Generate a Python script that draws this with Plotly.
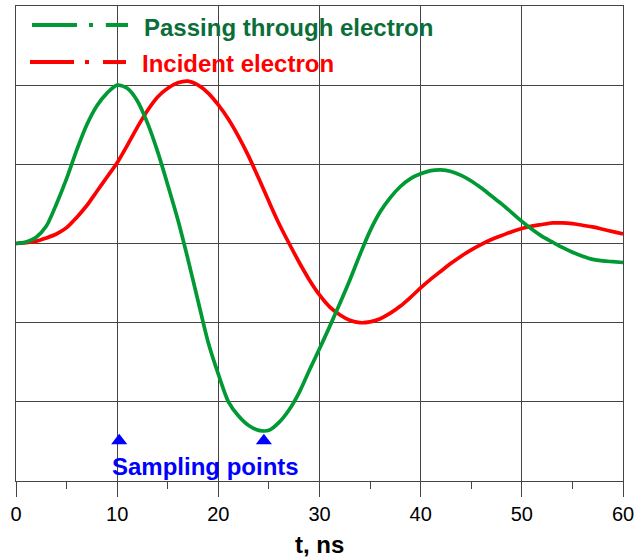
import plotly.graph_objects as go

# Passing through electron (green)
t_pass = list(range(0, 61))
v_pass = [0.0, 0.02, 0.08, 0.22, 0.5, 0.82, 1.18, 1.5, 1.74, 1.9, 2.0, 1.96, 1.8, 1.52, 1.16, 0.74, 0.3,
          -0.2, -0.73, -1.25, -1.65, -2.0, -2.18, -2.3, -2.36, -2.36, -2.26, -2.1, -1.88, -1.6, -1.33,
          -1.05, -0.76, -0.46, -0.14, 0.16, 0.4, 0.58, 0.72, 0.82, 0.88, 0.92, 0.93, 0.91, 0.86, 0.79,
          0.7, 0.6, 0.5, 0.39, 0.28, 0.18, 0.09, 0.02, -0.05, -0.11, -0.16, -0.2, -0.22, -0.23, -0.24]

# Incident electron (red)
t_inc = list(range(0, 61))
v_inc = [0.0, 0.01, 0.03, 0.07, 0.12, 0.2, 0.33, 0.48, 0.66, 0.84, 1.02, 1.24, 1.47, 1.68, 1.85, 1.96,
         2.03, 2.05, 2.0, 1.9, 1.75, 1.57, 1.35, 1.1, 0.82, 0.53, 0.25, 0.0, -0.24, -0.46, -0.65,
         -0.8, -0.9, -0.97, -1.0, -0.99, -0.95, -0.88, -0.79, -0.68, -0.56, -0.45, -0.35, -0.25,
         -0.16, -0.08, -0.01, 0.05, 0.1, 0.15, 0.19, 0.22, 0.24, 0.26, 0.26, 0.25, 0.23, 0.21, 0.18,
         0.15, 0.12]

# Sampling points
t_samp = [10.2, 24.5]
v_samp = [-2.49, -2.49]

x_ticks = [0, 10, 20, 30, 40, 50, 60]

GREEN_LINE = "#009933"
GREEN_TEXT = "#0b6e38"
RED = "#ff0000"
BLUE = "#0000ff"
FONT = "Arial, Liberation Sans, sans-serif"

fig = go.Figure()
fig.add_trace(go.Scatter(x=t_inc, y=v_inc, mode="lines",
                         line=dict(color=RED, width=3.7, shape="spline", smoothing=0.8),
                         name="Incident electron", showlegend=False))
fig.add_trace(go.Scatter(x=t_pass, y=v_pass, mode="lines",
                         line=dict(color=GREEN_LINE, width=3.7, shape="spline", smoothing=0.8),
                         name="Passing through electron", showlegend=False))
fig.add_trace(go.Scatter(x=t_samp, y=v_samp, mode="markers",
                         marker=dict(symbol="triangle-up", size=14, color=BLUE), showlegend=False))

# Legend drawn manually (dash-dot-dash symbol)
def seg(x0, x1, y, color):
    fig.add_shape(type="line", xref="paper", yref="paper", x0=x0, x1=x1, y0=y, y1=y,
                  line=dict(color=color, width=4))

for (a, b) in [(0.0264, 0.1005), (0.1203, 0.1269), (0.148, 0.1845)]:
    seg(a, b, 0.96, GREEN_LINE)
for (a, b) in [(0.023, 0.0956), (0.1137, 0.1203), (0.1433, 0.1812)]:
    seg(a, b, 0.882, RED)

fig.add_annotation(text="<b>Passing through electron</b>", xref="paper", yref="paper", x=0.2076, y=0.954,
                   xanchor="left", yanchor="middle", showarrow=False,
                   font=dict(family=FONT, size=24, color=GREEN_TEXT))
fig.add_annotation(text="<b>Incident electron</b>", xref="paper", yref="paper", x=0.204, y=0.88,
                   xanchor="left", yanchor="middle", showarrow=False,
                   font=dict(family=FONT, size=24, color=RED))
fig.add_annotation(text="<b>Sampling points</b>", xref="x", yref="y", x=9.3, y=-2.82,
                   xanchor="left", yanchor="middle", showarrow=False,
                   font=dict(family=FONT, size=24, color=BLUE))
fig.add_annotation(text="<b>t, ns</b>", xref="paper", yref="paper", x=0.5, y=-0.133,
                   xanchor="center", yanchor="middle", showarrow=False,
                   font=dict(family=FONT, size=24, color="black"))

fig.update_layout(
    width=635, height=560,
    margin=dict(l=16, r=12, t=6, b=79),
    plot_bgcolor="white", paper_bgcolor="white",
    showlegend=False,
    xaxis=dict(range=[0, 60], tickvals=x_ticks, ticktext=[str(v) for v in x_ticks],
               showgrid=True, gridcolor="#444444", gridwidth=1,
               showline=True, linecolor="#444444", linewidth=1, mirror=True,
               ticks="outside", ticklen=15, tickcolor="#444444", tickwidth=1,
               minor=dict(dtick=5, ticks="outside", ticklen=7, tickcolor="#444444", showgrid=False),
               tickfont=dict(family=FONT, size=20, color="black"),
               zeroline=False, fixedrange=True, automargin=False),
    yaxis=dict(range=[-3, 3], dtick=1, showticklabels=False,
               showgrid=True, gridcolor="#444444", gridwidth=1,
               showline=True, linecolor="#444444", linewidth=1, mirror=True,
               ticks="", zeroline=False, fixedrange=True, automargin=False),
)

# remove the default 8px page margin so the figure fills the 635x560 window exactly
fig.write_html("out.html", config={"displayModeBar": False},
               post_script="document.body.style.margin='0';document.body.style.overflow='hidden';")
